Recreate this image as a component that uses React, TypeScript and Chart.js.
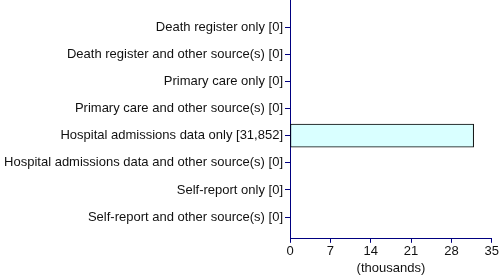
import React, { useEffect, useRef } from "react";
import { Chart, registerables } from "chart.js";

Chart.register(...registerables);

const categories = [
  "Death register only [0]",
  "Death register and other source(s) [0]",
  "Primary care only [0]",
  "Primary care and other source(s) [0]",
  "Hospital admissions data only [31,852]",
  "Hospital admissions data and other source(s) [0]",
  "Self-report only [0]",
  "Self-report and other source(s) [0]",
];
const valuesThousands = [0, 0, 0, 0, 31.852, 0, 0, 0];
const xTicks = [0, 7, 14, 21, 28, 35];
const xTitle = "(thousands)";

export default function App() {
  const ref = useRef<HTMLCanvasElement | null>(null);
  useEffect(() => {
    if (!ref.current) return;
    const navy = "#000080";
    const font = { family: "'Liberation Sans', Arial, sans-serif", size: 13 };
    const chart = new Chart(ref.current, {
      type: "bar",
      data: {
        datasets: [
          {
            data: valuesThousands.map((v, i) => ({ x: v, y: i + 1 })),
            backgroundColor: "#d9ffff",
            borderColor: "#000000",
            borderWidth: 1,
            borderSkipped: false,
            barThickness: 23,
          },
        ],
      },
      options: {
        indexAxis: "y",
        animation: false,
        responsive: false,
        maintainAspectRatio: false,
        layout: { padding: { top: 0, right: 0, left: 0, bottom: 0 } },
        plugins: { legend: { display: false }, tooltip: { enabled: false } },
        scales: {
          x: {
            type: "linear",
            min: 0,
            max: 35,
            offset: false,
            afterBuildTicks: (s: any) => {
              s.ticks = xTicks.map((v) => ({ value: v }));
            },
            grid: { drawOnChartArea: false, color: navy, tickLength: 4, offset: false },
            border: { color: navy },
            ticks: { color: "#111", font, padding: 1, maxRotation: 0 },
            title: { display: true, text: xTitle, color: "#111", font, padding: { top: 0, bottom: 0 } },
          },
          y: {
            type: "linear",
            min: 0,
            max: 8.8,
            reverse: true,
            offset: false,
            afterBuildTicks: (s: any) => {
              s.ticks = categories.map((_, i) => ({ value: i + 1 }));
            },
            afterFit: (s: any) => {
              s.width = 290;
              s.paddingTop = 0;
              s.paddingBottom = 0;
            },
            grid: { drawOnChartArea: false, color: navy, tickLength: 5, offset: false },
            border: { color: navy },
            ticks: {
              color: "#111",
              font,
              padding: 2,
              callback: (v: any) => categories[Math.round(Number(v)) - 1] ?? "",
            },
          },
        },
      },
    } as any);
    return () => chart.destroy();
  }, []);
  return (
    <div style={{ position: "fixed", left: 0, top: 0, width: 500, height: 276, background: "#fff" }}>
      <canvas ref={ref} width={500} height={276} style={{ width: 500, height: 276 }} />
    </div>
  );
}
